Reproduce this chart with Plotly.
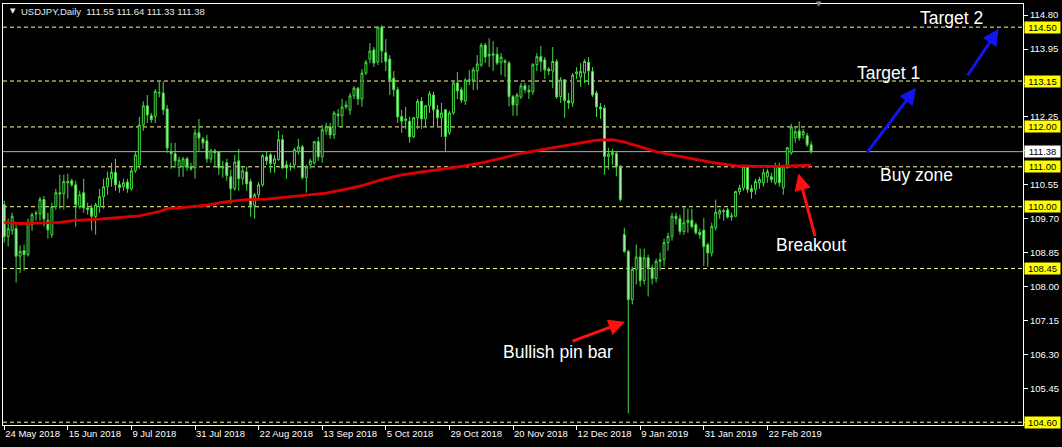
import plotly.graph_objects as go

# ---------------- data ----------------
tick_labels = ["24 May 2018", "15 Jun 2018", "9 Jul 2018", "31 Jul 2018", "22 Aug 2018",
               "13 Sep 2018", "5 Oct 2018", "29 Oct 2018", "20 Nov 2018", "12 Dec 2018",
               "9 Jan 2019", "31 Jan 2019", "22 Feb 2019"]
tick_bars = [0, 16, 32, 48, 64, 80, 96, 112, 128, 144, 160, 176, 192]

opens = [110.05, 109.25, 109.40, 109.45, 108.76, 108.90, 108.80, 109.55, 109.82, 109.82,
         110.18, 109.66, 109.30, 110.00, 110.35, 110.33, 110.63, 110.65, 110.55, 110.00,
         110.35, 109.97, 109.97, 109.75, 110.00, 110.25, 110.50, 110.70, 110.86, 110.55,
         110.50, 110.62, 110.45, 110.90, 111.05, 112.05, 112.53, 112.28, 112.26, 112.85,
         112.85, 112.45, 111.38, 111.33, 110.98, 111.00, 111.20, 111.00, 110.98, 111.85,
         111.70, 111.65, 111.20, 111.40, 111.37, 110.97, 111.10, 110.75, 110.45, 111.15,
         110.70, 110.87, 110.63, 110.03, 110.30, 110.55, 111.25, 111.30, 111.08, 111.18,
         111.68, 111.05, 111.00, 111.05, 111.38, 111.50, 110.73, 111.05, 111.10, 111.63,
         111.25, 111.90, 112.00, 111.80, 112.32, 112.28, 112.50, 112.42, 112.78, 112.97,
         112.70, 113.35, 113.70, 113.93, 113.63, 114.50, 113.86, 113.70, 113.22, 112.93,
         112.26, 112.16, 112.14, 111.75, 112.23, 112.64, 112.20, 112.53, 112.80, 112.43,
         112.23, 112.43, 111.85, 112.35, 113.10, 112.93, 112.65, 113.15, 113.18, 113.40,
         113.55, 114.05, 113.78, 113.83, 113.82, 113.62, 113.65, 113.60, 112.76, 112.55,
         112.75, 113.03, 112.92, 112.88, 113.56, 113.76, 113.68, 113.45, 113.40, 113.64,
         112.76, 113.18, 112.66, 112.60, 113.33, 113.25, 113.35, 113.62, 113.39, 112.85,
         112.50, 112.47, 111.26, 111.30, 111.33, 111.00, 109.30, 108.88, 107.67, 108.43,
         108.74, 108.15, 108.72, 108.47, 108.20, 108.63, 108.67, 109.10, 109.26, 109.76,
         109.70, 109.38, 109.60, 109.66, 109.55, 109.36, 109.41, 109.05, 108.84, 109.47,
         109.82, 109.90, 109.92, 109.74, 109.76, 110.38, 110.47, 111.00, 110.45, 110.43,
         110.60, 110.60, 110.75, 110.75, 110.60, 111.00, 110.47, 110.98, 111.35, 111.72,
         111.90, 111.80, 111.78, 111.55]

highs = [110.15, 109.70, 109.85, 109.55, 109.03, 109.05, 109.70, 109.85, 109.90, 110.25,
         110.27, 109.85, 110.10, 110.45, 110.80, 110.80, 110.83, 110.70, 110.65, 110.40,
         110.70, 110.10, 110.05, 110.10, 110.45, 110.70, 110.88, 111.10, 111.20, 110.65,
         110.70, 110.70, 110.97, 111.40, 112.25, 112.64, 112.80, 112.35, 112.95, 113.14,
         113.14, 112.55, 111.60, 111.60, 111.25, 111.25, 111.25, 111.10, 111.95, 112.20,
         111.75, 111.80, 111.45, 111.45, 111.40, 111.15, 111.20, 110.93, 111.30, 111.45,
         111.00, 111.00, 110.70, 110.35, 110.62, 111.32, 111.40, 111.35, 111.30, 111.90,
         111.80, 111.15, 111.10, 111.48, 111.70, 111.55, 111.05, 111.20, 111.65, 111.75,
         112.05, 112.10, 112.10, 112.40, 112.45, 112.70, 112.65, 112.85, 113.02, 113.00,
         113.45, 113.68, 114.10, 114.00, 114.52, 114.55, 114.20, 113.80, 113.40, 113.00,
         112.43, 112.50, 112.25, 112.25, 112.70, 112.75, 112.55, 112.90, 112.88, 112.55,
         112.60, 112.45, 112.40, 113.15, 113.38, 113.00, 113.22, 113.42, 113.50, 113.80,
         114.10, 114.10, 114.22, 114.15, 114.00, 113.85, 113.70, 113.65, 112.80, 112.85,
         113.10, 113.10, 113.05, 113.60, 113.85, 114.03, 113.75, 113.50, 114.00, 113.70,
         113.25, 113.20, 112.85, 113.35, 113.50, 113.60, 113.70, 113.75, 113.50, 112.90,
         112.60, 112.55, 111.48, 111.45, 111.40, 111.05, 109.47, 108.92, 108.50, 109.05,
         108.95, 108.95, 108.80, 108.55, 108.70, 108.85, 109.20, 109.35, 109.85, 109.85,
         109.80, 110.00, 109.95, 109.95, 109.60, 109.45, 109.72, 109.10, 109.60, 110.18,
         109.95, 109.95, 109.97, 109.85, 110.40, 110.55, 111.05, 111.05, 110.55, 110.70,
         110.75, 110.95, 110.95, 110.85, 111.10, 111.10, 111.05, 111.50, 112.08, 112.00,
         112.14, 111.95, 111.85, 111.64]

lows = [109.10, 109.00, 109.30, 108.10, 108.34, 108.40, 108.75, 109.40, 109.65, 109.65,
        109.50, 109.20, 109.22, 109.92, 109.95, 109.93, 110.20, 110.50, 109.50, 109.95,
        109.85, 109.80, 109.40, 109.30, 109.85, 109.95, 110.30, 110.50, 110.40, 110.35,
        110.40, 110.35, 110.40, 110.85, 110.95, 111.90, 112.10, 112.10, 112.10, 112.74,
        112.30, 111.35, 110.95, 110.98, 110.75, 110.75, 110.90, 110.90, 110.70, 111.40,
        111.45, 111.10, 111.10, 111.00, 110.80, 110.73, 110.65, 110.07, 110.40, 110.40,
        110.55, 110.40, 109.75, 109.70, 110.20, 110.50, 111.05, 110.85, 110.85, 111.15,
        110.95, 110.70, 110.90, 110.95, 111.30, 110.68, 110.35, 110.95, 111.05, 111.15,
        111.10, 111.80, 111.70, 111.70, 112.00, 112.00, 112.45, 112.30, 112.70, 112.55,
        112.50, 113.30, 113.60, 113.50, 113.55, 113.60, 113.40, 112.80, 112.76, 112.10,
        111.85, 111.95, 111.60, 111.72, 111.95, 111.95, 112.00, 112.35, 112.00, 112.00,
        111.75, 111.37, 111.80, 112.30, 112.70, 112.60, 112.55, 113.05, 112.92, 112.93,
        113.50, 113.60, 113.50, 113.40, 113.55, 113.30, 113.25, 112.51, 112.28, 112.28,
        112.70, 112.85, 112.70, 112.80, 113.40, 113.39, 113.20, 113.30, 112.97, 112.70,
        112.60, 112.23, 112.45, 112.50, 113.20, 113.00, 113.10, 113.05, 112.75, 112.25,
        112.20, 110.80, 110.93, 111.05, 110.76, 110.13, 108.84, 104.82, 107.55, 108.05,
        108.00, 108.05, 107.75, 108.05, 108.10, 108.40, 108.50, 108.90, 109.15, 109.55,
        109.30, 109.30, 109.35, 109.45, 109.30, 109.20, 108.51, 108.50, 108.75, 109.40,
        109.70, 109.65, 109.70, 109.65, 109.74, 110.30, 110.40, 110.35, 110.20, 110.30,
        110.45, 110.50, 110.60, 110.60, 110.55, 110.50, 110.30, 110.95, 111.30, 111.60,
        111.65, 111.70, 111.50, 111.33]

closes = [109.25, 109.45, 109.76, 108.76, 108.88, 108.80, 109.60, 109.80, 109.84, 110.18,
          109.69, 109.42, 110.00, 110.35, 110.32, 110.63, 110.60, 110.55, 110.05, 110.30,
          109.97, 109.93, 109.76, 110.05, 110.25, 110.50, 110.72, 110.86, 110.55, 110.48,
          110.60, 110.45, 110.90, 111.30, 112.05, 112.53, 112.30, 112.18, 112.89, 112.86,
          112.43, 111.47, 111.33, 111.15, 111.17, 111.20, 111.00, 110.95, 111.85, 111.72,
          111.60, 111.20, 111.40, 111.35, 110.97, 111.00, 110.78, 110.45, 111.12, 110.70,
          110.90, 110.57, 110.03, 110.30, 110.55, 111.28, 111.15, 111.08, 111.20, 111.68,
          110.97, 110.97, 111.02, 111.43, 111.50, 110.73, 111.00, 111.15, 111.63, 111.25,
          111.93, 112.00, 111.80, 112.35, 112.28, 112.50, 112.55, 112.78, 112.97, 112.70,
          113.35, 113.62, 113.90, 113.60, 114.50, 113.90, 113.64, 113.18, 112.93, 112.25,
          112.14, 112.20, 111.75, 112.23, 112.64, 112.20, 112.53, 112.83, 112.43, 112.23,
          112.35, 111.76, 112.35, 113.10, 112.90, 112.67, 113.18, 113.18, 113.43, 113.58,
          114.05, 113.75, 113.82, 113.80, 113.60, 113.75, 113.62, 112.76, 112.55, 112.80,
          113.03, 112.93, 112.88, 113.56, 113.76, 113.64, 113.43, 113.40, 113.64, 112.75,
          113.18, 112.66, 112.60, 113.30, 113.38, 113.39, 113.64, 113.40, 112.80, 112.50,
          112.45, 111.26, 111.32, 111.36, 111.00, 110.18, 108.88, 107.67, 108.43, 108.74,
          108.15, 108.72, 108.47, 108.20, 108.63, 108.67, 109.10, 109.26, 109.76, 109.70,
          109.38, 109.60, 109.66, 109.50, 109.35, 109.30, 109.00, 108.84, 109.51, 109.86,
          109.90, 109.88, 109.74, 109.77, 110.38, 110.47, 111.00, 110.43, 110.38, 110.63,
          110.68, 110.85, 110.88, 110.68, 111.03, 110.60, 111.00, 111.48, 112.00, 111.88,
          111.72, 111.88, 111.55, 111.38]

bars = list(range(len(opens)))

# moving average, read at a subset of bars
ma_bars = [0, 4, 8, 14, 18, 24, 30, 34, 39, 41, 46, 51, 56, 61, 66, 71, 76, 81, 86, 90,
           95, 100, 105, 110, 115, 120, 125, 130, 135, 140, 145, 149, 153, 156, 159, 164,
           169, 174, 179, 184, 189, 194, 199, 203]
ma_values = [109.61, 109.58, 109.59, 109.61, 109.66, 109.69, 109.74, 109.77, 109.88, 109.95,
             109.99, 110.04, 110.13, 110.18, 110.19, 110.24, 110.29, 110.34, 110.44, 110.53,
             110.68, 110.80, 110.87, 110.94, 111.01, 111.10, 111.21, 111.34, 111.43, 111.51,
             111.60, 111.67, 111.68, 111.62, 111.53, 111.38, 111.28, 111.18, 111.09, 111.03,
             111.01, 111.01, 111.03, 111.04]

level_prices = [114.50, 113.15, 112.00, 111.00, 110.00, 108.45, 104.60]
bid_price = 111.38
y_ticks = [114.80, 113.95, 113.10, 112.25, 111.40, 110.55, 109.70, 108.85, 108.00,
           107.15, 106.30, 105.45, 104.60]

title_text = "USDJPY,Daily  111.55 111.64 111.33 111.38"

# (text, bar position, price)
text_notes = [("Target 2", 238.4, 114.73), ("Target 1", 222.4, 113.36),
              ("Buy zone", 229.4, 110.80), ("Breakout", 203.0, 109.05),
              ("Bullish pin bar", 139.4, 106.35)]
# (color, head bar, head price, tail dx px, tail dy px)
arrows = [("#1414F0", 229.4, 112.98, -50, 66), ("#1414F0", 250.2, 114.46, -32, 48),
          ("#FF1010", 199.8, 110.83, 17, 64), ("#FF1010", 156.2, 107.12, -54, 20)]

# ---------------- figure ----------------
GREEN = "#44DD44"
fig = go.Figure()

fig.add_trace(go.Scatter(x=ma_bars, y=ma_values, mode="lines",
                         line=dict(color="#DD0000", width=2.8), hoverinfo="skip"))

fig.add_trace(go.Candlestick(
    x=bars, open=opens, high=highs, low=lows, close=closes,
    increasing=dict(line=dict(color=GREEN, width=1), fillcolor="#000000"),
    decreasing=dict(line=dict(color=GREEN, width=1), fillcolor="#B8F7B8"),
    whiskerwidth=0, hoverinfo="skip"))

shapes = []
for p in level_prices:
    shapes.append(dict(type="line", xref="paper", x0=0, x1=1, yref="y", y0=p, y1=p,
                       line=dict(color="#FFFF99", width=1, dash="4px,3px"), layer="below"))
shapes.append(dict(type="line", xref="paper", x0=0, x1=1, yref="y", y0=bid_price, y1=bid_price,
                   line=dict(color="#A8B0BC", width=1), layer="below"))

annotations = []
for p in level_prices:
    annotations.append(dict(xref="paper", x=1, xanchor="left", xshift=1, yref="y", y=p,
                            yanchor="middle", text=f"{p:.2f}", showarrow=False,
                            bgcolor="#FFFF00", width=35, height=11, borderpad=0,
                            font=dict(family="Liberation Sans, Arial", size=9.5, color="black")))
annotations.append(dict(xref="paper", x=1, xanchor="left", xshift=1, yref="y", y=bid_price,
                        yanchor="middle", text=f"{bid_price:.2f}", showarrow=False,
                        bgcolor="#FFFFFF", width=35, height=11, borderpad=0,
                        font=dict(family="Liberation Sans, Arial", size=9.5, color="black")))

for txt, bx, py in text_notes:
    annotations.append(dict(x=bx, y=py, xref="x", yref="y", text=txt, showarrow=False,
                            font=dict(family="Liberation Sans, Arial", size=17.5, color="white")))

for col, bx, py, dx, dy in arrows:
    annotations.append(dict(x=bx, y=py, xref="x", yref="y", ax=dx, ay=dy, text="",
                            showarrow=True, arrowhead=2, arrowsize=1.1, arrowwidth=3,
                            arrowcolor=col, standoff=0))

annotations.append(dict(xref="paper", x=0.0157, xanchor="left", yref="paper", y=0.983,
                        yanchor="middle", text=title_text, showarrow=False,
                        font=dict(family="Liberation Sans, Arial", size=9.5, color="#E8E8E8")))
annotations.append(dict(xref="paper", x=0.0045, xanchor="left", yref="paper", y=0.983,
                        yanchor="middle", text="▼", showarrow=False,
                        font=dict(family="DejaVu Sans", size=7, color="#E8E8E8")))
annotations.append(dict(xref="x", x=205, yref="paper", y=1.0, yanchor="middle",
                        text="▼", showarrow=False,
                        font=dict(family="DejaVu Sans", size=7, color="#909090")))

fig.update_layout(
    width=1062, height=447,
    margin=dict(l=3, r=39, t=4, b=22),
    paper_bgcolor="black", plot_bgcolor="black",
    showlegend=False, hovermode=False,
    shapes=shapes, annotations=annotations,
    xaxis=dict(range=[-0.3, 256.3], tickvals=tick_bars, ticktext=tick_labels,
               ticks="outside", ticklen=4, tickcolor="white", ticklabelposition="outside right",
               tickfont=dict(family="Liberation Sans, Arial", size=9.5, color="white"),
               showline=True, mirror=True, linecolor="white", linewidth=1,
               showgrid=False, zeroline=False, rangeslider=dict(visible=False)),
    yaxis=dict(range=[104.53, 115.08], side="right", tickvals=y_ticks,
               ticktext=[f"{v:.2f}" for v in y_ticks],
               ticks="outside", ticklen=4, tickcolor="white",
               tickfont=dict(family="Liberation Sans, Arial", size=9.5, color="white"),
               showline=True, mirror=True, linecolor="white", linewidth=1,
               showgrid=False, zeroline=False),
)

fig.write_html("out.html", config={"displayModeBar": False},
               post_script="document.body.style.margin='0px';document.body.style.background='black';")
